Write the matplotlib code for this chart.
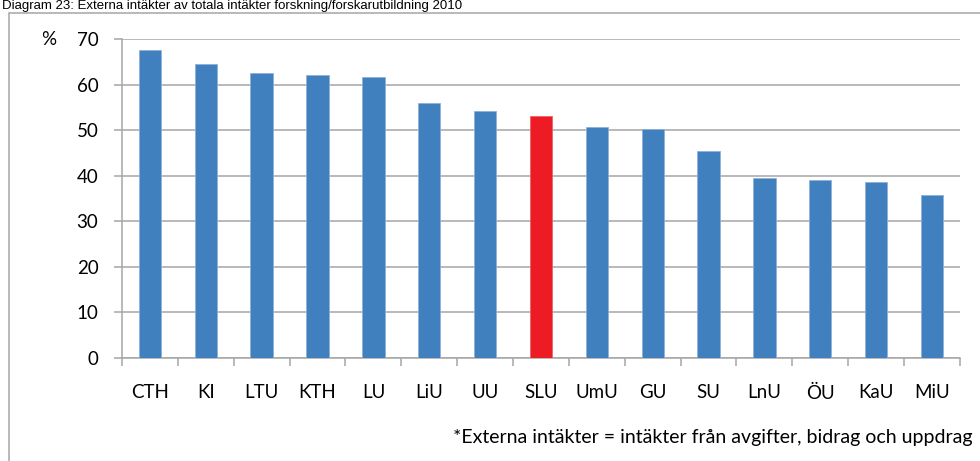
import matplotlib.pyplot as plt
from matplotlib.patches import Rectangle

# data
schools = ['CTH', 'KI', 'LTU', 'KTH', 'LU', 'LiU', 'UU', 'SLU',
           'UmU', 'GU', 'SU', 'LnU', 'ÖU', 'KaU', 'MiU']
share_ext = [67.6, 64.5, 62.5, 62.1, 61.7, 56.0, 54.2, 53.1,
             50.7, 50.2, 45.5, 39.4, 39.0, 38.7, 35.7]
highlight = 'SLU'
yticks = [0, 10, 20, 30, 40, 50, 60, 70]

title = 'Diagram 23: Externa intäkter av totala intäkter forskning/forskarutbildning 2010'
footnote = '*Externa intäkter = intäkter från avgifter, bidrag och uppdrag'

blue = '#4080BE'
red = '#ED1C24'
grey = '#A6A6A6'
font = 'Lato'


def main():
    fig = plt.figure(figsize=(9.8, 4.61), dpi=100)
    ax = fig.add_axes([0.1245, 0.2234, 0.855, 0.692])

    # outer chart frame (runs off the right and bottom edge)
    fig.add_artist(Rectangle((0.0095, -0.2), 1.2, 1.172, transform=fig.transFigure,
                             fill=False, edgecolor=grey, linewidth=1.1))
    # title squeezed into the strip above the frame
    fig.text(0.002, 0.999, title, ha='left', va='top',
             fontsize=9.5, family='Liberation Sans', color='black')

    x = range(len(schools))
    colors = [red if s == highlight else blue for s in schools]
    edges = ['#F06068' if s == highlight else '#8FB1DA' for s in schools]
    ax.bar(x, share_ext, width=0.4, color=colors, edgecolor=edges,
           linewidth=0.6, zorder=3)

    ax.set_xlim(-0.5, len(schools) - 0.5)
    ax.set_ylim(0, 70)
    ax.set_yticks(yticks)
    ax.set_yticklabels([str(t) for t in yticks], family=font, fontsize=13.5)
    ax.set_xticks(list(x))
    ax.set_xticklabels(schools, family=font, fontsize=13.5)
    ax.set_xticks([i - 0.5 for i in range(len(schools) + 1)], minor=True)

    ax.tick_params(axis='x', which='major', length=0, pad=19)
    ax.tick_params(axis='x', which='minor', length=6, width=1.1, color=grey,
                   direction='out')
    ax.tick_params(axis='y', length=6, width=1.1, color=grey, pad=11)

    ax.grid(axis='y', color=grey, linewidth=1.1, zorder=0)
    ax.set_axisbelow(True)
    for side in ['top', 'right']:
        ax.spines[side].set_visible(False)
    ax.spines['left'].set_color(grey)
    ax.spines['left'].set_linewidth(1.1)
    ax.spines['bottom'].set_color(grey)
    ax.spines['bottom'].set_linewidth(1.1)

    ax.text(-0.088, 1.0, '%', transform=ax.transAxes, ha='center', va='center',
            family=font, fontsize=13.5)

    fig.text(453 / 980, 1 - 443 / 461, footnote, ha='left', va='baseline',
             family=font, fontsize=14)

    fig.savefig('out.png', dpi=100)


if __name__ == '__main__':
    main()
